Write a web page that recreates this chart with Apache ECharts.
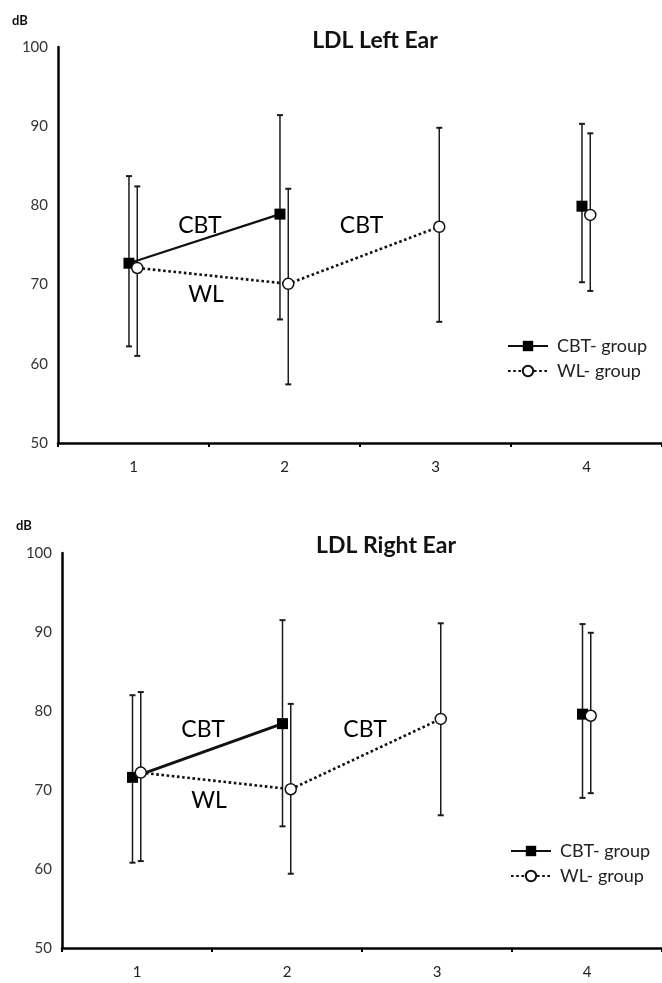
<!DOCTYPE html>
<html>
<head>
<meta charset="utf-8">
<script src="https://cdn.jsdelivr.net/npm/echarts@6/dist/echarts.min.js"></script>
<style>
  html, body { margin: 0; padding: 0; background: #fff; }
  #chart { width: 662px; height: 983px; }
</style>
</head>
<body>
<div id="chart"></div>
<script>
// ---------------- DATA ----------------
const categories = ['1', '2', '3', '4'];
const yTicks = [50, 60, 70, 80, 90, 100];

// LDL Left Ear (dB): means and error-bar ends
const leftCBTMean = [72.7, 78.9, null, 79.9];
const leftCBTLow  = [62.2, 65.6, null, 70.3];
const leftCBTHigh = [83.7, 91.4, null, 90.3];
const leftWLMean  = [72.1, 70.1, 77.3, 78.8];
const leftWLLow   = [61.0, 57.4, 65.3, 69.2];
const leftWLHigh  = [82.4, 82.1, 89.8, 89.1];

// LDL Right Ear (dB)
const rightCBTMean = [71.6, 78.4, null, 79.6];
const rightCBTLow  = [60.8, 65.4, null, 69.0];
const rightCBTHigh = [82.0, 91.5, null, 91.0];
const rightWLMean  = [72.2, 70.1, 79.0, 79.4];
const rightWLLow   = [61.0, 59.4, 66.8, 69.6];
const rightWLHigh  = [82.4, 80.9, 91.1, 89.9];

// number of leading points joined by a line
const cbtJoined = 2;
const wlJoined = 3;

// annotation labels [text, category position, dB]
const leftNotes  = [['CBT', 1.44, 77.4], ['CBT', 2.51, 77.5], ['WL', 1.48, 68.8]];
const rightNotes = [['CBT', 1.44, 77.6], ['CBT', 2.52, 77.6], ['WL', 1.48, 68.7]];

const titles = ['LDL Left Ear', 'LDL Right Ear'];
const seriesNames = ['CBT- group', 'WL- group'];

// ---------------- STYLE ----------------
const FONT = 'Lato';
const DODGE_CBT = -0.03;
const DODGE_WL = 0.025;
const INK = '#111';

function pts(mean, dodge, from, to) {
  const out = [];
  for (let i = from; i < to; i++) {
    if (mean[i] != null) out.push([i + 1 + dodge, mean[i]]);
  }
  return out;
}

function errSeries(name, xi, yi, mean, low, high, dodge) {
  const data = [];
  mean.forEach((m, i) => { if (m != null) data.push([i + 1 + dodge, low[i], high[i]]); });
  return {
    type: 'custom', name: name, xAxisIndex: xi, yAxisIndex: yi, z: 1, silent: true,
    data: data,
    encode: { x: 0, y: [1, 2] },
    renderItem: function (params, api) {
      const x = api.value(0);
      const lo = api.coord([x, api.value(1)]);
      const hi = api.coord([x, api.value(2)]);
      const cw = 3;
      const st = { stroke: '#1a1a1a', lineWidth: 1.5 };
      const cap = { stroke: '#1a1a1a', lineWidth: 2 };
      return {
        type: 'group',
        children: [
          { type: 'line', shape: { x1: lo[0], y1: lo[1], x2: hi[0], y2: hi[1] }, style: st },
          { type: 'line', shape: { x1: hi[0] - cw, y1: hi[1], x2: hi[0] + cw, y2: hi[1] }, style: cap },
          { type: 'line', shape: { x1: lo[0] - cw, y1: lo[1], x2: lo[0] + cw, y2: lo[1] }, style: cap }
        ]
      };
    }
  };
}

const wlLine = { color: INK, width: 2.6, type: [2.6, 2.6] };
const cbtSym = { symbol: 'rect', symbolSize: 11, itemStyle: { color: '#000', borderColor: '#000', borderWidth: 0, opacity: 1 } };
const wlSym = { symbol: 'circle', symbolSize: 11, itemStyle: { color: '#fff', borderColor: '#111', borderWidth: 1.5, opacity: 1 } };

function groupSeries(xi, yi, cm, cl, ch, wm, wl, wh, notes, cbtWidth) {
  const s = [];
  s.push(errSeries('cbt-err', xi, yi, cm, cl, ch, DODGE_CBT));
  s.push(errSeries('wl-err', xi, yi, wm, wl, wh, DODGE_WL));
  s.push(Object.assign({
    type: 'line', name: seriesNames[0], xAxisIndex: xi, yAxisIndex: yi, z: 3,
    data: pts(cm, DODGE_CBT, 0, cbtJoined), showSymbol: true,
    lineStyle: { color: INK, width: cbtWidth, type: 'solid' }
  }, cbtSym));
  s.push(Object.assign({
    type: 'line', name: seriesNames[1], xAxisIndex: xi, yAxisIndex: yi, z: 4,
    data: pts(wm, DODGE_WL, 0, wlJoined), showSymbol: true,
    lineStyle: wlLine
  }, wlSym));
  s.push(Object.assign({
    type: 'scatter', name: seriesNames[0], xAxisIndex: xi, yAxisIndex: yi, z: 3,
    data: pts(cm, DODGE_CBT, cbtJoined, cm.length)
  }, cbtSym));
  s.push(Object.assign({
    type: 'scatter', name: seriesNames[1], xAxisIndex: xi, yAxisIndex: yi, z: 4,
    data: pts(wm, DODGE_WL, wlJoined, wm.length)
  }, wlSym));
  s.push({
    type: 'scatter', name: 'notes', xAxisIndex: xi, yAxisIndex: yi, z: 5, silent: true,
    symbolSize: 0,
    data: notes.map(n => ({ value: [n[1], n[2]], label: { formatter: n[0] } })),
    label: { show: true, position: 'inside', color: '#000', fontSize: 23, fontFamily: FONT, textBorderWidth: 0, opacity: 1 }
  });
  return s;
}

const grids = [
  { left: 58, top: 47, width: 604, height: 396 },
  { left: 62, top: 553, width: 601, height: 395 }
];

function catAxis(gi) {
  return {
    type: 'category', gridIndex: gi, data: categories, boundaryGap: true,
    axisLine: { lineStyle: { color: '#000', width: 2.5 } },
    axisTick: { show: true, length: 4, lineStyle: { color: '#000', width: 2 } },
    axisLabel: { color: '#222', fontSize: 15, fontFamily: FONT, margin: 17 },
    splitLine: { show: false }
  };
}
function valXAxis(gi) {
  return { type: 'value', gridIndex: gi, min: 0.5, max: 4.5, show: false };
}
function yAxis(gi) {
  return {
    type: 'value', gridIndex: gi, min: yTicks[0], max: yTicks[yTicks.length - 1], interval: 10,
    axisLine: { show: true, lineStyle: { color: '#000', width: 2.5 } },
    axisTick: { show: false },
    axisLabel: { color: '#333', fontSize: 15, fontFamily: FONT, margin: 10, padding: [5, 0, 0, 0] },
    splitLine: { show: false }
  };
}

const legendCommon = {
  orient: 'vertical', data: seriesNames, itemWidth: 40, itemHeight: 13, itemGap: 7,
  textStyle: { fontSize: 18, fontFamily: FONT, color: '#222', padding: [0, 0, 0, 4] },
  selectedMode: false
};

const option = {
  animation: false,
  backgroundColor: '#fff',
  textStyle: { fontFamily: FONT },
  title: [
    { text: titles[0], left: 370, top: 24, textAlign: 'center', textStyle: { fontSize: 23, fontWeight: 'bold', color: '#111', fontFamily: FONT } },
    { text: titles[1], left: 381, top: 529, textAlign: 'center', textStyle: { fontSize: 23, fontWeight: 'bold', color: '#111', fontFamily: FONT } },
    { text: 'dB', left: 7, top: 9, textStyle: { fontSize: 13, fontWeight: 'bold', color: '#111', fontFamily: FONT } },
    { text: 'dB', left: 11, top: 514, textStyle: { fontSize: 13, fontWeight: 'bold', color: '#111', fontFamily: FONT } }
  ],
  legend: [
    Object.assign({ left: 502, top: 332 }, legendCommon),
    Object.assign({ left: 505, top: 837 }, legendCommon)
  ],
  grid: grids,
  xAxis: [catAxis(0), valXAxis(0), catAxis(1), valXAxis(1)],
  yAxis: [yAxis(0), yAxis(1)],
  series: [].concat(
    groupSeries(1, 0, leftCBTMean, leftCBTLow, leftCBTHigh, leftWLMean, leftWLLow, leftWLHigh, leftNotes, 2.2),
    groupSeries(3, 1, rightCBTMean, rightCBTLow, rightCBTHigh, rightWLMean, rightWLLow, rightWLHigh, rightNotes, 3)
  )
};

const chart = echarts.init(document.getElementById('chart'), null, { renderer: 'canvas' });
chart.setOption(option);
</script>
</body>
</html>
